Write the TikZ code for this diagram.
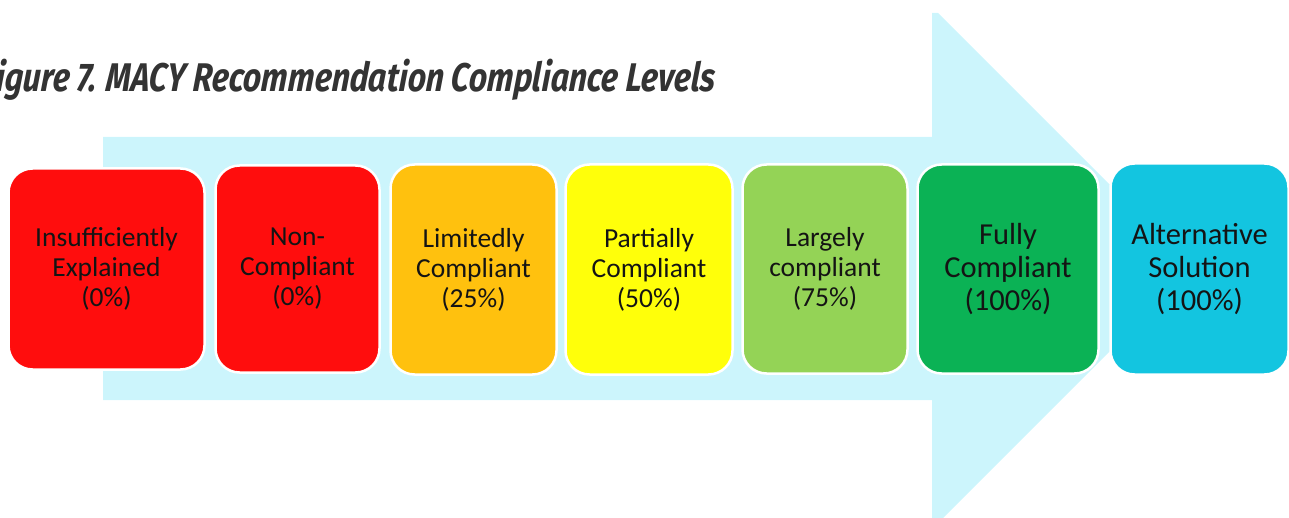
\documentclass[tikz,border=0pt]{standalone}
\usepackage{fontspec}
\setmainfont{Carlito}
\newfontfamily\titlefont[FakeStretch=0.8,FakeSlant=0.08]{Fira Sans}
\definecolor{arrowfill}{HTML}{CCF5FC}
\definecolor{redlvl}{HTML}{FF0D0D}
\definecolor{orangelvl}{HTML}{FFC10E}
\definecolor{yellowlvl}{HTML}{FFFF0A}
\definecolor{lightgreenlvl}{HTML}{94D356}
\definecolor{greenlvl}{HTML}{0BB255}
\definecolor{cyanlvl}{HTML}{13C5E0}
\definecolor{titlegray}{HTML}{333333}
\definecolor{textdark}{HTML}{141414}
\tikzset{
  levelbox/.style={draw=white, line width=2.5pt, rounded corners=24pt,
    inner sep=0pt, align=center, text=textdark,
    font=\fontsize{27.5}{30}\selectfont},
  levelbig/.style={levelbox, font=\fontsize{30.5}{33}\selectfont}
}
\begin{document}
\begin{tikzpicture}[x=1pt, y=-1pt]
  \useasboundingbox (0,0) rectangle (1289,518);
  % progression arrow behind the levels
  \fill[arrowfill] (103,137) -- (932,137) -- (932,13) -- (938,13)
    -- (1193,268) -- (938,523) -- (932,523) -- (932,400) -- (103,400) -- cycle;
  % caption
  \node[anchor=base east, inner sep=0pt, text=titlegray,
        font=\titlefont\bfseries\itshape\fontsize{40}{44}\selectfont]
    (caption) at (715,92) {Figure 7. MACY Recommendation Compliance Levels};
  % compliance levels
  \node[levelbox, fill=redlvl, minimum width=196pt, minimum height=201pt]
    (insuff) at (106.5,269) {Insufficiently\\Explained\\(0\%)};
  \node[levelbox, fill=redlvl, minimum width=164pt, minimum height=207pt]
    (noncomp) at (297.5,269) {Non-\\Compliant\\(0\%)};
  \node[levelbox, fill=orangelvl, minimum width=166pt, minimum height=210pt]
    (limited) at (473.5,269.5) {Limitedly\\Compliant\\(25\%)};
  \node[levelbox, fill=yellowlvl, minimum width=167pt, minimum height=210pt]
    (partial) at (649,269.5) {Partially\\Compliant\\(50\%)};
  \node[levelbox, fill=lightgreenlvl, minimum width=165pt, minimum height=209pt]
    (largely) at (825,269) {Largely\\compliant\\(75\%)};
  \node[levelbig, fill=greenlvl, minimum width=181pt, minimum height=209pt]
    (fully) at (1008,269) {Fully\\Compliant\\(100\%)};
  \node[levelbig, fill=cyanlvl, minimum width=178pt, minimum height=211pt]
    (altsol) at (1199.5,269) {Alternative\\Solution\\(100\%)};
\end{tikzpicture}
\end{document}
